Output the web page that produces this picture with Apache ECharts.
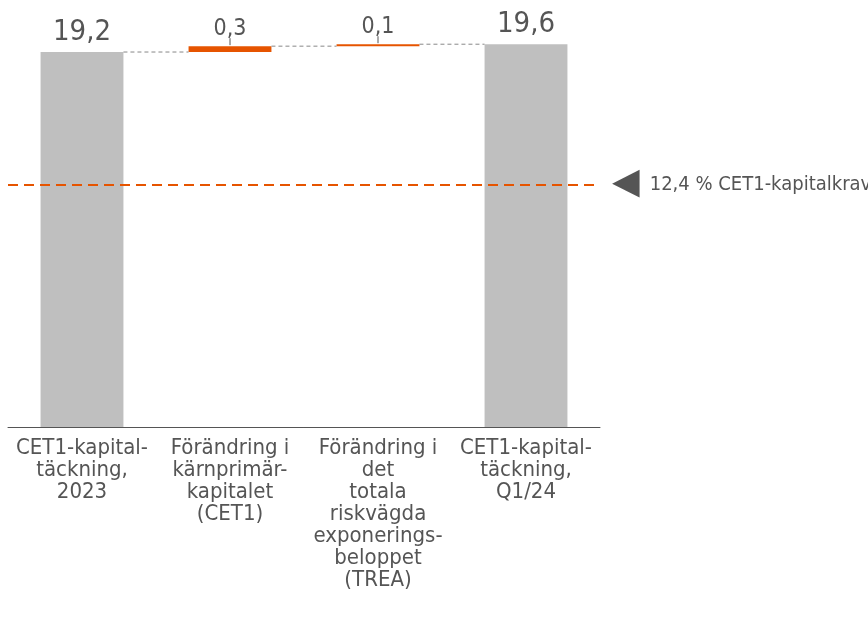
<!DOCTYPE html>
<html><head><meta charset="utf-8">
<script src="https://cdn.jsdelivr.net/npm/echarts@6/dist/echarts.min.js"></script>
<style>html,body{margin:0;padding:0;background:#fff}#c{width:868px;height:638px}</style>
</head><body><div id="c"></div>
<script>
const categories = [
  "CET1-kapital-\ntäckning,\n2023",
  "Förändring i\nkärnprimär-\nkapitalet\n(CET1)",
  "Förändring i\ndet\ntotala\nriskvägda\nexponerings-\nbeloppet\n(TREA)",
  "CET1-kapital-\ntäckning,\nQ1/24"
];
const values = [19.2, 0.3, 0.1, 19.6];
const isTotal = [true, false, false, true];
const requirement = 12.4;
const requirementLabel = "12,4 % CET1-kapitalkrav";

const FONT = "'DejaVu Sans Condensed','DejaVu Sans',sans-serif";
const GRAY = '#bfbfbf', ORANGE = '#e65400', TXT = '#555555';

// waterfall bases
const bases = []; let run = 0;
values.forEach((v, i) => {
  if (isTotal[i]) { bases.push(0); run = v; }
  else { bases.push(run); run = +(run + v).toFixed(4); }
});
const tops = values.map((v, i) => +(bases[i] + v).toFixed(4));
const connectors = tops.slice(0, -1).map((t, i) => [i, t, 0]);
const ticks = tops.map((t, i) => [i, t, 1]).filter((d, i) => !isTotal[i]);

const chart = echarts.init(document.getElementById('c'), null, {renderer: 'canvas'});
chart.setOption({
  animation: false,
  grid: {left: 8, right: 268, top: 36.4, bottom: 211},
  xAxis: {
    type: 'category', data: categories,
    axisLine: {lineStyle: {color: '#555', width: 1}},
    axisTick: {show: false},
    axisLabel: {interval: 0, color: TXT, fontFamily: FONT, fontSize: 22, lineHeight: 22, margin: 10}
  },
  yAxis: {type: 'value', min: 0, max: 20, show: false, splitLine: {show: false}},
  series: [
    {type: 'bar', stack: 'w', data: bases, barWidth: '56%', itemStyle: {color: 'transparent'}, silent: true},
    {type: 'bar', stack: 'w', barWidth: '56%',
      data: values.map((v, i) => ({
        value: v,
        itemStyle: {color: isTotal[i] ? GRAY : ORANGE},
        label: {fontSize: isTotal[i] ? 29 : 23, distance: isTotal[i] ? 5 : 6}
      })),
      label: {show: true, position: 'top', color: TXT, fontFamily: FONT,
        formatter: p => String(p.value).replace('.', ',')},
      markLine: {
        silent: true, symbol: 'none',
        lineStyle: {color: ORANGE, type: [10, 6], width: 2},
        label: {show: true, position: 'end', distance: 12,
          formatter: '{t|◀}{l|' + requirementLabel + '}',
          rich: {
            t: {color: '#555', fontSize: 36, fontFamily: 'DejaVu Sans', padding: [0, 0, 3, 0]},
            l: {color: TXT, fontSize: 20, fontFamily: FONT, padding: [0, 0, 0, 10]}
          }},
        data: [{yAxis: requirement}]
      }
    },
    {type: 'custom', data: connectors.concat(ticks), silent: true, z: 3,
      renderItem: (params, api) => {
        const i = api.value(0), lvl = api.value(1), kind = api.value(2);
        const p1 = api.coord([i, lvl]);
        if (kind === 1) {
          return {type: 'line', shape: {x1: p1[0], y1: p1[1] - 1, x2: p1[0], y2: p1[1] - 8},
            style: {stroke: '#555', lineWidth: 1}};
        }
        const p2 = api.coord([i + 1, lvl]);
        const half = api.size([1, 0])[0] * 0.56 / 2;
        return {type: 'line',
          shape: {x1: p1[0] + half, y1: p1[1], x2: p2[0] - half, y2: p2[1]},
          style: {stroke: '#888', lineWidth: 1, lineDash: [4, 3]}};
      }
    }
  ]
});
</script></body></html>
